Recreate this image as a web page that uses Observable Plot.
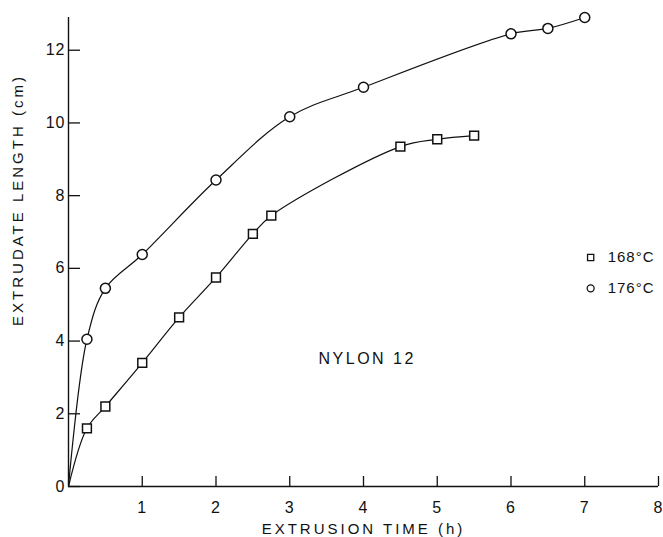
<!DOCTYPE html>
<html>
<head>
<meta charset="utf-8">
<script src="https://cdn.jsdelivr.net/npm/d3@7"></script>
<script src="https://cdn.jsdelivr.net/npm/@observablehq/plot@0.6"></script>
<style>
  html, body { margin: 0; padding: 0; background: #fff; }
  #chart svg { font-family: "Liberation Sans", "DejaVu Sans", sans-serif; }
  #chart svg text { letter-spacing: 1px; }
</style>
</head>
<body>
<div id="chart"></div>
<script>
// Nylon 12: extrudate length vs extrusion time at two temperatures
const time168 = [0, 0.25, 0.5, 1, 1.5, 2, 2.5, 2.75, 4.5, 5, 5.5];
const len168  = [0, 1.6, 2.2, 3.4, 4.65, 5.75, 6.95, 7.45, 9.35, 9.55, 9.65];
const time176 = [0, 0.25, 0.5, 1, 2, 3, 4, 6, 6.5, 7];
const len176  = [0, 4.05, 5.45, 6.38, 8.43, 10.17, 10.98, 12.45, 12.6, 12.9];

const xTicks = [1, 2, 3, 4, 5, 6, 7, 8];
const yTicks = [0, 2, 4, 6, 8, 10, 12];
const series = ["168°C", "176°C"];
const xTitle = "EXTRUSION TIME (h)";
const yTitle = "EXTRUDATE LENGTH (cm)";
const note = "NYLON 12";

const toRows = (ts, ls) => ts.map((t, i) => ({time: t, length: ls[i]}));
const rows168 = toRows(time168, len168);
const rows176 = toRows(time176, len176);
// the curves start at the origin; markers only on measured points
const pts168 = rows168.filter(d => d.time > 0);
const pts176 = rows176.filter(d => d.time > 0);

// legend anchor (data units)
const legendX = 7.08;
const legendY = [6.3, 5.45];

const ink = "#111";

const plot = Plot.plot({
  width: 663,
  height: 537,
  marginTop: 17,
  marginRight: 5,
  marginBottom: 51,
  marginLeft: 68,
  style: {fontSize: "16px", color: ink, background: "#fff"},
  x: {domain: [0, 8]},
  y: {domain: [0, 12.9]},
  marks: [
    Plot.ruleX([0], {stroke: ink, strokeWidth: 1.4}),
    Plot.ruleY([0], {stroke: ink, strokeWidth: 1.4}),
    Plot.axisX({ticks: xTicks, tickSize: -10, tickPadding: 25, label: null, stroke: ink, strokeWidth: 1.3, fontSize: 16}),
    Plot.axisY({ticks: yTicks, tickSize: -12, tickPadding: 15, label: null, stroke: ink, strokeWidth: 1.3, fontSize: 16}),
    Plot.line(rows168, {x: "time", y: "length", curve: "catmull-rom", stroke: ink, strokeWidth: 1.2}),
    Plot.line(rows176, {x: "time", y: "length", curve: "catmull-rom", stroke: ink, strokeWidth: 1.2}),
    Plot.dot(pts168, {x: "time", y: "length", symbol: "square", r: 5, fill: "#fff", stroke: ink, strokeWidth: 1.5}),
    Plot.dot(pts176, {x: "time", y: "length", symbol: "circle", r: 5, fill: "#fff", stroke: ink, strokeWidth: 1.5}),
    // legend
    Plot.dot(series, {x: () => legendX, y: (d, i) => legendY[i], symbol: (d, i) => i === 0 ? "square" : "circle",
      r: 3.5, fill: "#fff", stroke: ink, strokeWidth: 1.3}),
    Plot.text(series, {x: () => legendX, y: (d, i) => legendY[i], text: d => d, dx: 17, textAnchor: "start", fontSize: 15, fill: ink}),
    // annotation
    Plot.text([note], {x: () => 4.05, y: () => 3.5, text: d => d, fontSize: 16, fill: ink}),
    // axis titles
    Plot.text([xTitle], {frameAnchor: "bottom", text: d => d, dy: 43, lineAnchor: "middle", textAnchor: "middle", fontSize: 15, fill: ink}),
    Plot.text([yTitle], {frameAnchor: "left", text: d => d, rotate: -90, dx: -50, dy: -52, textAnchor: "middle", lineAnchor: "middle", fontSize: 15, fill: ink})
  ]
});

document.getElementById("chart").append(plot);

// wider lettering on titles and annotation
const spacing = {[xTitle]: "3px", [yTitle]: "3px", [note]: "2.5px"};
d3.select(plot).selectAll("text").each(function() {
  const s = spacing[this.textContent];
  if (s) this.style.letterSpacing = s;
});
</script>
</body>
</html>
